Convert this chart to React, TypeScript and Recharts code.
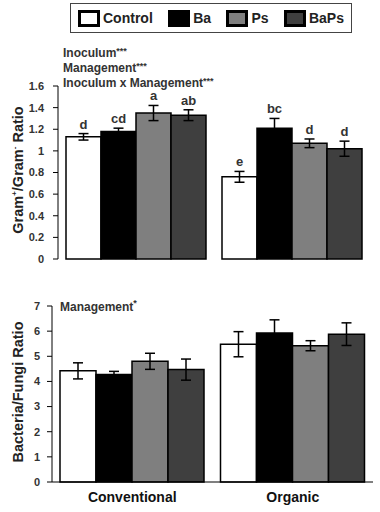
import { BarChart, Bar, XAxis, YAxis, ErrorBar, LabelList } from 'recharts'

const categories = ['Conventional', 'Organic']
const series = ['Control', 'Ba', 'Ps', 'BaPs']
const colors = ['#ffffff', '#000000', '#7f7f7f', '#3f3f3f']

// Gram+/Gram- ratio, per category, in series order
const gramConventional = [1.13, 1.18, 1.35, 1.33]
const gramConventionalErr = [0.03, 0.03, 0.07, 0.05]
const gramConventionalSig = ['d', 'cd', 'a', 'ab']
const gramOrganic = [0.76, 1.21, 1.07, 1.02]
const gramOrganicErr = [0.05, 0.09, 0.04, 0.07]
const gramOrganicSig = ['e', 'bc', 'd', 'd']
const gramTicks = [0, 0.2, 0.4, 0.6, 0.8, 1, 1.2, 1.4, 1.6]

// Bacteria/Fungi ratio
const bfConventional = [4.42, 4.28, 4.8, 4.47]
const bfConventionalErr = [0.32, 0.12, 0.32, 0.42]
const bfOrganic = [5.48, 5.93, 5.42, 5.88]
const bfOrganicErr = [0.5, 0.52, 0.2, 0.45]
const bfTicks = [0, 1, 2, 3, 4, 5, 6, 7]

const font = '"Liberation Sans", Arial, sans-serif'

function buildRows(vals: number[][], errs: number[][], sigs?: string[][]) {
  return categories.map((name, ci) => {
    const row: any = { name }
    series.forEach((s, si) => {
      row[s] = vals[ci][si]
      row[s + '_err'] = errs[ci][si]
      if (sigs) row[s + '_sig'] = sigs[ci][si]
    })
    return row
  })
}

const gramData = buildRows(
  [gramConventional, gramOrganic],
  [gramConventionalErr, gramOrganicErr],
  [gramConventionalSig, gramOrganicSig]
)
const bfData = buildRows([bfConventional, bfOrganic], [bfConventionalErr, bfOrganicErr])

const tickStyle = { fill: '#333', fontSize: 11, fontWeight: 700, fontFamily: font }

const sigLabel = (key: string) => (props: any) => {
  const { x, y, width, height, value, index } = props
  const row = gramData[index]
  const pxPerUnit = Math.abs(height) / row[key]
  const top = y - row[key + '_err'] * pxPerUnit - 5
  return (
    <text x={x + width / 2} y={top} textAnchor="middle" fontSize={13} fontWeight={700}
      fontFamily={font} fill="#333">
      {value}
    </text>
  )
}

function Legend() {
  return (
    <div style={{
      position: 'absolute', left: 70, top: 3, width: 282, height: 30,
      border: '1.5px solid #444', display: 'flex', alignItems: 'center',
      justifyContent: 'space-between', padding: '0 7px', boxSizing: 'border-box',
    }}>
      {series.map((s, i) => (
        <div key={s} style={{ display: 'flex', alignItems: 'center' }}>
          <div style={{
            width: 16, height: 11, background: colors[i], border: '3px solid #000', marginRight: 3,
          }} />
          <span style={{ fontSize: 14, fontWeight: 700, color: '#222' }}>{s}</span>
        </div>
      ))}
    </div>
  )
}

const stars = (n: number) => (
  <span style={{ fontSize: 9, verticalAlign: 'top', position: 'relative', top: -2 }}>{'*'.repeat(n)}</span>
)

export default function App() {
  return (
    <div style={{
      position: 'absolute', left: 0, top: 0, width: 380, height: 512, background: '#fff',
      fontFamily: font, overflow: 'hidden',
    }}>
      <Legend />
      <div style={{ position: 'absolute', left: 63, top: 46, fontSize: 12, fontWeight: 700, color: '#333', lineHeight: '15px' }}>
        <div>Inoculum{stars(3)}</div>
        <div>Management{stars(3)}</div>
        <div>Inoculum x Management{stars(3)}</div>
      </div>
      <div style={{ position: 'absolute', left: 0, top: 0 }}>
        <BarChart width={380} height={270} data={gramData} barGap={0} barCategoryGap={8}
          margin={{ top: 86, right: 10, bottom: 11, left: 0 }}>
          <XAxis dataKey="name" tick={false} tickLine={false} height={0} axisLine={{ stroke: '#000' }} />
          <YAxis width={58} domain={[0, 1.6]} ticks={gramTicks} interval={0} tick={tickStyle}
            tickFormatter={(v: number) => String(Number(v.toFixed(1)))}
            tickSize={5} tickMargin={9} tickLine={{ stroke: '#000' }} axisLine={{ stroke: '#000' }} />
          {series.map((s, i) => (
            <Bar key={s} dataKey={s} fill={colors[i]} stroke="#000" strokeWidth={1.5} isAnimationActive={false}>
              <ErrorBar dataKey={s + '_err'} width={5} stroke="#000" strokeWidth={1.5} direction="y" />
              <LabelList dataKey={s + '_sig'} content={sigLabel(s)} />
            </Bar>
          ))}
        </BarChart>
      </div>
      <div style={{
        position: 'absolute', left: 18, top: 170, transform: 'translate(-50%, -50%) rotate(-90deg)',
        whiteSpace: 'nowrap', fontSize: 14.5, fontWeight: 700, color: '#222',
      }}>
        Gram<sup style={{ fontSize: 8 }}>+</sup>/Gram<sup style={{ fontSize: 8 }}>-</sup> Ratio
      </div>

      <div style={{ position: 'absolute', left: 60, top: 300, fontSize: 12, fontWeight: 700, color: '#333' }}>
        Management{stars(1)}
      </div>
      <div style={{ position: 'absolute', left: 0, top: 270 }}>
        <BarChart width={380} height={242} data={bfData} barGap={0} barCategoryGap={8}
          margin={{ top: 36, right: 7, bottom: 0, left: 0 }}>
          <XAxis dataKey="name" height={30} tickLine={false} tickSize={6} tickMargin={4}
            axisLine={{ stroke: '#000' }}
            tick={{ fill: '#111', fontSize: 14, fontWeight: 700, fontFamily: font }} />
          <YAxis width={52} domain={[0, 7]} ticks={bfTicks} interval={0} tick={tickStyle}
            tickSize={5} tickMargin={7} tickLine={{ stroke: '#000' }} axisLine={{ stroke: '#000' }} />
          {series.map((s, i) => (
            <Bar key={s} dataKey={s} fill={colors[i]} stroke="#000" strokeWidth={1.5} isAnimationActive={false}>
              <ErrorBar dataKey={s + '_err'} width={5} stroke="#000" strokeWidth={1.5} direction="y" />
            </Bar>
          ))}
        </BarChart>
      </div>
      <div style={{
        position: 'absolute', left: 18, top: 392, transform: 'translate(-50%, -50%) rotate(-90deg)',
        whiteSpace: 'nowrap', fontSize: 14.5, fontWeight: 700, color: '#222',
      }}>
        Bacteria/Fungi Ratio
      </div>
    </div>
  )
}
